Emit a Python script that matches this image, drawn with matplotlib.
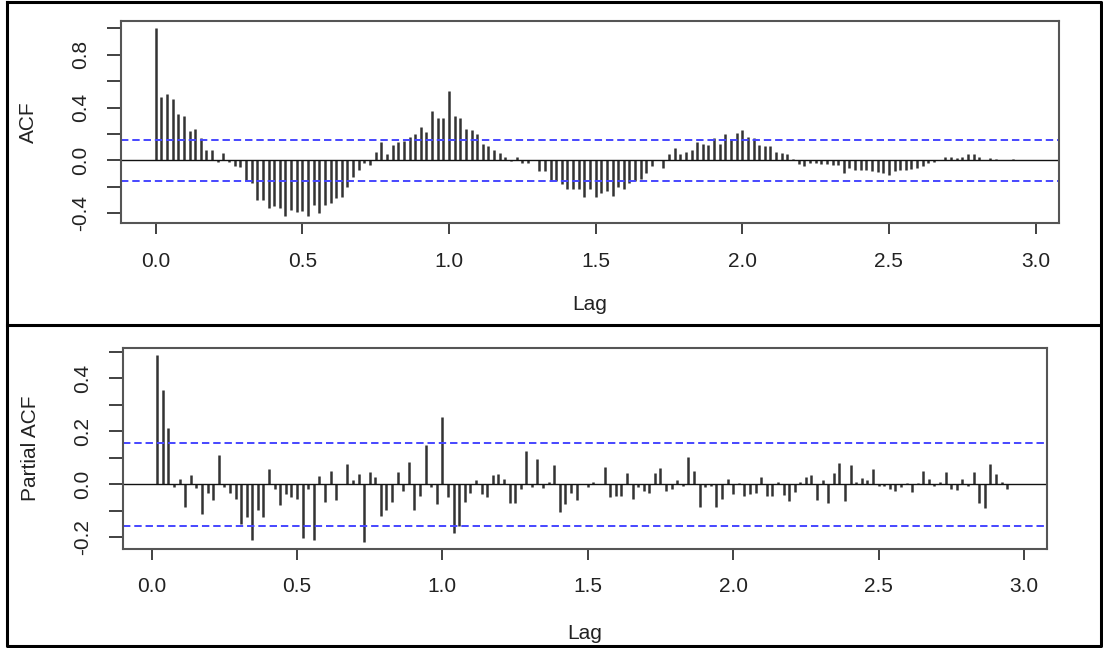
import numpy as np
import matplotlib
matplotlib.use("Agg")
import matplotlib.pyplot as plt
from matplotlib.lines import Line2D

plt.rcParams["font.family"] = ["Liberation Sans", "DejaVu Sans"]

# weekly series, lags expressed in years
freq = 52
n_obs = 156

acf_vals = [
    1.0, 0.477, 0.504, 0.467, 0.351, 0.334, 0.226, 0.236, 0.171, 0.075,
    0.075, -0.015, 0.055, -0.01, -0.043, -0.05, -0.16, -0.176, -0.30, -0.30,
    -0.361, -0.344, -0.361, -0.419, -0.376, -0.391, -0.386, -0.419, -0.336, -0.401,
    -0.336, -0.326, -0.286, -0.276, -0.20, -0.13, -0.075, -0.018, -0.035, 0.065,
    0.135, 0.045, 0.115, 0.135, 0.15, 0.18, 0.20, 0.25, 0.216, 0.371,
    0.321, 0.321, 0.527, 0.334, 0.321, 0.241, 0.233, 0.20, 0.125, 0.108,
    0.08, 0.055, 0.025, -0.005, 0.025, -0.02, -0.02, 0.0, -0.085, -0.08,
    -0.155, -0.16, -0.18, -0.218, -0.218, -0.218, -0.276, -0.218, -0.276, -0.25,
    -0.23, -0.268, -0.206, -0.22, -0.176, -0.155, -0.14, -0.10, -0.045, 0.003,
    -0.06, 0.045, 0.09, 0.045, 0.065, 0.075, 0.135, 0.125, 0.115, 0.17,
    0.125, 0.2, 0.163, 0.208, 0.233, 0.18, 0.166, 0.115, 0.11, 0.11,
    0.065, 0.055, 0.045, 0.01, -0.025, -0.043, -0.02, -0.02, -0.025, -0.025,
    -0.035, -0.035, -0.093, -0.06, -0.075, -0.075, -0.075, -0.08, -0.09, -0.095,
    -0.11, -0.085, -0.075, -0.07, -0.068, -0.06, -0.043, -0.02, -0.01, 0.0,
    0.025, 0.025, 0.02, 0.025, 0.045, 0.045, 0.025, 0.005, 0.02, 0.01,
    0.0, 0.0, 0.01, 0.0, 0.0,
]

pacf_vals = [
    0.487, 0.356, 0.213, -0.01, 0.02, -0.086, 0.033, -0.014, -0.114, -0.033,
    -0.061, 0.11, -0.01, -0.033, -0.056, -0.152, -0.124, -0.212, -0.096, -0.124,
    0.056, -0.02, -0.078, -0.038, -0.05, -0.056, -0.205, -0.02, -0.21, 0.03,
    -0.066, 0.05, -0.061, 0.0, 0.078, 0.015, 0.038, -0.217, 0.047, 0.028,
    -0.121, -0.096, -0.068, 0.047, -0.025, 0.083, -0.098, -0.045, 0.150, -0.01,
    -0.076, 0.255, -0.05, -0.184, -0.157, -0.068, -0.033, 0.015, -0.038, -0.048,
    0.033, 0.038, 0.02, -0.073, -0.073, -0.018, 0.124, -0.01, 0.096, -0.015,
    0.01, 0.073, -0.104, -0.076, -0.033, -0.061, 0.0, -0.01, 0.008, 0.0,
    0.066, -0.05, -0.043, -0.043, 0.043, -0.056, -0.01, -0.025, -0.033, 0.043,
    0.061, -0.025, -0.018, 0.015, -0.008, 0.101, 0.048, -0.086, -0.01, -0.005,
    -0.086, -0.056, 0.02, -0.038, 0.005, -0.045, -0.038, -0.033, 0.028, -0.045,
    -0.045, 0.008, -0.04, -0.063, -0.028, 0.01, 0.028, 0.033, -0.058, 0.015,
    -0.073, 0.043, 0.081, -0.063, 0.073, 0.01, 0.025, 0.015, 0.056, -0.008,
    -0.008, -0.018, -0.025, -0.01, 0.005, -0.03, 0.005, 0.05, 0.02, -0.005,
    0.01, 0.045, -0.018, -0.023, 0.02, -0.005, 0.045, -0.073, -0.091, 0.076,
    0.038, 0.01, -0.018, 0.0,
]

x_ticks = [0.0, 0.5, 1.0, 1.5, 2.0, 2.5, 3.0]
acf_yticks = [-0.4, -0.2, 0.0, 0.2, 0.4, 0.6, 0.8, 1.0]
acf_ylabels = ["-0.4", "", "0.0", "", "0.4", "", "0.8", ""]
pacf_yticks = [-0.2, -0.1, 0.0, 0.1, 0.2, 0.3, 0.4, 0.5]
pacf_ylabels = ["-0.2", "", "0.0", "", "0.2", "", "0.4", ""]

conf = 1.96 / np.sqrt(n_obs)

W, H = 1103, 648
fig = plt.figure(figsize=(W / 100, H / 100), dpi=100)


def box(px_left, px_top, px_right, px_bottom):
    return [px_left / W, 1 - px_bottom / H, (px_right - px_left) / W, (px_bottom - px_top) / H]


def corr_panel(ax, lags, vals, ylab, yticks, ylabels, xpad, lagpad):
    lags = np.asarray(lags)
    vals = np.asarray(vals)
    ax.vlines(lags, 0, vals, color="#333333", lw=1.8)
    ax.axhline(0, color="#111111", lw=1.0)
    for c in (conf, -conf):
        ax.axhline(c, color="#4646ff", lw=1.4, dashes=(3.8, 2.0))
    # R style axis ranges: 4% padding on each side
    span = lags.max() - lags.min()
    ax.set_xlim(lags.min() - 0.04 * span, lags.max() + 0.04 * span)
    lo = min(vals.min(), -conf)
    hi = max(vals.max(), conf)
    ax.set_ylim(lo - 0.04 * (hi - lo), hi + 0.04 * (hi - lo))
    ax.set_xticks(x_ticks)
    ax.set_xticklabels([f"{t:.1f}" for t in x_ticks])
    ax.set_yticks(yticks)
    ax.set_yticklabels(ylabels, rotation=90, va="center")
    ax.tick_params(axis="x", length=8, width=1.3, color="#333333",
                   labelsize=15, pad=xpad, labelcolor="#222222")
    ax.tick_params(axis="y", length=10, width=1.3, color="#333333",
                   labelsize=15, pad=12, labelcolor="#222222")
    for s in ax.spines.values():
        s.set_color("#555555")
        s.set_linewidth(1.5)
    ax.set_xlabel("Lag", fontsize=15, color="#222222", labelpad=lagpad)
    ax.set_ylabel(ylab, fontsize=15, color="#222222", labelpad=24)


acf_lags = np.arange(len(acf_vals)) / freq
pacf_lags = np.arange(1, len(pacf_vals) + 1) / freq

ax1 = fig.add_axes(box(121, 21, 1059, 223))
corr_panel(ax1, acf_lags, acf_vals, "ACF", acf_yticks, acf_ylabels, 13, 17)

ax2 = fig.add_axes(box(123, 348, 1047, 549))
corr_panel(ax2, pacf_lags, pacf_vals, "Partial ACF", pacf_yticks, pacf_ylabels, 12, 20)

# outer frame with a divider between the two panels
def fig_line(xs, ys):
    fig.add_artist(Line2D([x / W for x in xs], [1 - y / H for y in ys],
                          color="black", lw=2.2, transform=fig.transFigure))


fig_line([7, 1101, 1101, 7, 7], [2, 2, 646, 646, 2])
fig_line([7, 1101], [325, 325])

fig.savefig("out.png", dpi=100)
